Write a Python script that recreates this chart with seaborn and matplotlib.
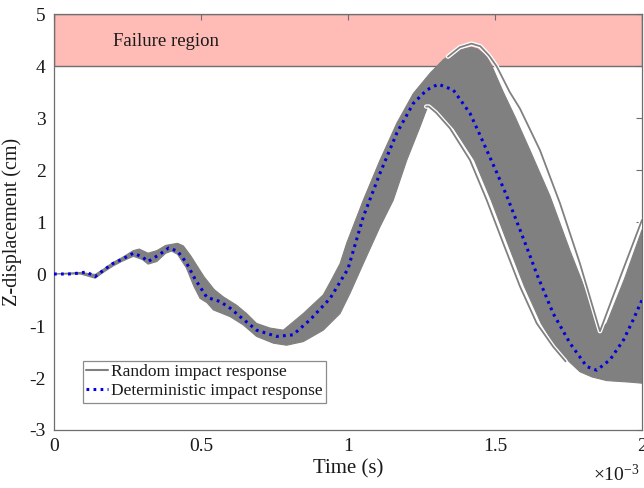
import numpy as np
import pandas as pd
import matplotlib
matplotlib.use("Agg")
import matplotlib.pyplot as plt
import matplotlib.patheffects as pe
from matplotlib.lines import Line2D
import seaborn as sns

# ---- data (time in ms, displacement in cm) ----
det_t = [0.00, 0.05, 0.09, 0.11, 0.14, 0.17, 0.20, 0.23, 0.27, 0.30, 0.32, 0.36, 0.39, 0.42,
         0.45, 0.48, 0.52, 0.565, 0.60, 0.633, 0.689, 0.757, 0.813, 0.871, 0.939, 1.00,
         1.052, 1.109, 1.166, 1.222, 1.268, 1.307, 1.358, 1.415, 1.449, 1.506, 1.54, 1.585,
         1.619, 1.642, 1.698, 1.755, 1.812, 1.846, 1.891, 1.937, 1.97, 2.00]
det_v = [0.00, 0.00, 0.02, 0.04, -0.05, 0.08, 0.20, 0.28, 0.40, 0.33, 0.24, 0.38, 0.50, 0.44,
         0.22, -0.10, -0.45, -0.53, -0.66, -0.82, -1.08, -1.20, -1.17, -0.88, -0.47, 0.10,
         1.10, 1.94, 2.71, 3.28, 3.54, 3.65, 3.54, 3.09, 2.67, 1.95, 1.50, 0.85,
         0.35, 0.00, -0.76, -1.33, -1.78, -1.85, -1.65, -1.27, -0.88, -0.50]

# upper envelope of the random responses band
up_t = [0.00, 0.09, 0.14, 0.17, 0.20, 0.23, 0.27, 0.29, 0.32, 0.35, 0.38, 0.42, 0.44, 0.465,
        0.51, 0.545, 0.576, 0.621, 0.655, 0.689, 0.735, 0.78, 0.814, 0.848, 0.916, 0.945,
        0.973, 0.996, 1.052, 1.109, 1.166, 1.222, 1.279, 1.324, 1.37, 1.42, 1.44, 1.47,
        1.49, 1.528, 1.57, 1.619, 1.687, 1.755, 1.80, 1.84, 1.86, 1.88, 1.94, 2.00]
up_v = [0.00, 0.03, -0.01, 0.10, 0.22, 0.31, 0.45, 0.48, 0.40, 0.45, 0.55, 0.59, 0.54, 0.35,
        -0.05, -0.30, -0.44, -0.60, -0.76, -0.95, -1.04, -1.08, -0.92, -0.76, -0.40, -0.10,
        0.20, 0.60, 1.42, 2.19, 2.90, 3.47, 3.86, 4.12, 4.30, 4.36, 4.33, 4.20,
        3.99, 3.50, 3.00, 2.38, 1.50, 0.45, -0.20, -0.80, -1.05, -0.95, -0.10, 0.85]

# lower envelope of the random responses band
lo_t = [0.00, 0.09, 0.14, 0.17, 0.20, 0.23, 0.27, 0.30, 0.32, 0.35, 0.38, 0.40, 0.42, 0.45,
        0.476, 0.497, 0.52, 0.542, 0.599, 0.644, 0.689, 0.746, 0.791, 0.848, 0.916, 0.973,
        1.007, 1.052, 1.109, 1.154, 1.20, 1.245, 1.273, 1.29, 1.36, 1.43, 1.487, 1.543,
        1.60, 1.657, 1.712, 1.755, 1.789, 1.83, 1.88, 1.96, 2.00]
lo_v = [0.00, 0.00, -0.08, 0.04, 0.15, 0.24, 0.34, 0.28, 0.19, 0.24, 0.40, 0.44, 0.38, 0.12,
        -0.24, -0.47, -0.55, -0.69, -0.82, -0.98, -1.20, -1.33, -1.37, -1.30, -1.08, -0.76,
        -0.37, 0.20, 0.91, 1.42, 2.19, 2.83, 3.25, 3.15, 2.80, 2.19, 1.42, 0.59,
        -0.24, -0.95, -1.46, -1.70, -1.88, -1.98, -2.05, -2.08, -2.10]

# outlying random responses (early / late)
early_t = [1.266, 1.275, 1.30, 1.347, 1.415, 1.472, 1.528, 1.585, 1.642, 1.698, 1.74]
early_v = [3.22, 3.22, 3.10, 2.80, 2.19, 1.42, 0.59, -0.24, -0.95, -1.40, -1.68]
late_t = [1.34, 1.38, 1.42, 1.45, 1.48, 1.506, 1.55, 1.585, 1.653, 1.721, 1.789, 1.857, 1.93, 2.00]
late_v = [4.18, 4.36, 4.43, 4.38, 4.20, 3.99, 3.50, 3.18, 2.38, 1.36, 0.20, -1.10, 0.00, 1.04]

fail_lo, fail_hi = 4, 5
x_ticks = [0, 0.5, 1, 1.5, 2]
x_tick_labels = ["0", "0.5", "1", "1.5", "2"]
y_ticks = [-3, -2, -1, 0, 1, 2, 3, 4, 5]

# ---- style ----
sns.set_theme(style="white")
plt.rcParams["font.family"] = ["Liberation Serif", "DejaVu Serif"]
plt.rcParams["mathtext.fontset"] = "custom"
plt.rcParams["mathtext.rm"] = "Liberation Serif"
plt.rcParams["mathtext.it"] = "Liberation Serif:italic"
plt.rcParams["axes.unicode_minus"] = False

GRAY = "#808080"
BLUE = "#0000E0"
SPINE = "#6e6e6e"
TXT = "#1a1a1a"

fig = plt.figure(figsize=(6.44, 4.88), dpi=100)
ax = fig.add_axes([54 / 644, 1 - 430 / 488, 588 / 644, 416 / 488])

ax.axhspan(fail_lo, fail_hi, facecolor="#FFBBB5", edgecolor=SPINE, lw=1.0, zorder=0)
ax.text(0.2, 4.48, "Failure region", fontsize=13.5, va="center", ha="left", color=TXT)

# band of random responses
ax.fill(np.r_[up_t, lo_t[::-1]], np.r_[up_v, lo_v[::-1]], color=GRAY, lw=0.8, ec=GRAY, zorder=2)

halo = [pe.Stroke(linewidth=3.2, foreground="white"), pe.Normal()]
df_e = pd.DataFrame({"t": early_t, "v": early_v})
df_l = pd.DataFrame({"t": late_t, "v": late_v})
sns.lineplot(data=df_e, x="t", y="v", ax=ax, color=GRAY, lw=1.3, sort=False,
             estimator=None, zorder=3, path_effects=halo)
sns.lineplot(data=df_l, x="t", y="v", ax=ax, color=GRAY, lw=1.3, sort=False,
             estimator=None, zorder=3, path_effects=halo)

df_d = pd.DataFrame({"t": det_t, "v": det_v})
sns.lineplot(data=df_d, x="t", y="v", ax=ax, color=BLUE, lw=2.2, ls=(0, (0.9, 1.4)),
             sort=False, estimator=None, zorder=4)

ax.set_xlim(0, 2)
ax.set_ylim(-3, 5)
ax.set_xticks(x_ticks)
ax.set_xticklabels(x_tick_labels)
ax.set_yticks(y_ticks)
ax.tick_params(direction="in", length=4, width=0.8, color=SPINE, labelsize=14,
               top=True, right=True, labelcolor=TXT, pad=6)
for s in ax.spines.values():
    s.set_color(SPINE)
    s.set_linewidth(0.9)
ax.set_xlabel("Time (s)", fontsize=15, color=TXT, labelpad=3)
ax.set_ylabel("Z-displacement (cm)", fontsize=14.5, color=TXT, labelpad=5)

fig.text(0.993, 0.006, r"$\times10^{-3}$", ha="right", va="bottom", fontsize=14, color=TXT)

handles = [Line2D([], [], color=GRAY, lw=1.5),
           Line2D([], [], color=BLUE, lw=2.2, ls=(0, (0.9, 1.4)))]
leg = ax.legend(handles, ["Random impact response", "Deterministic impact response"],
                loc="lower left", bbox_to_anchor=(0.049, 0.066), borderaxespad=0,
                fontsize=12.5, frameon=True, fancybox=False, edgecolor=SPINE,
                handlelength=1.25, handletextpad=0.15, borderpad=0.2, labelspacing=0.15)
leg.get_frame().set_linewidth(0.9)
for t in leg.get_texts():
    t.set_color(TXT)

fig.savefig("out.png", dpi=100)
